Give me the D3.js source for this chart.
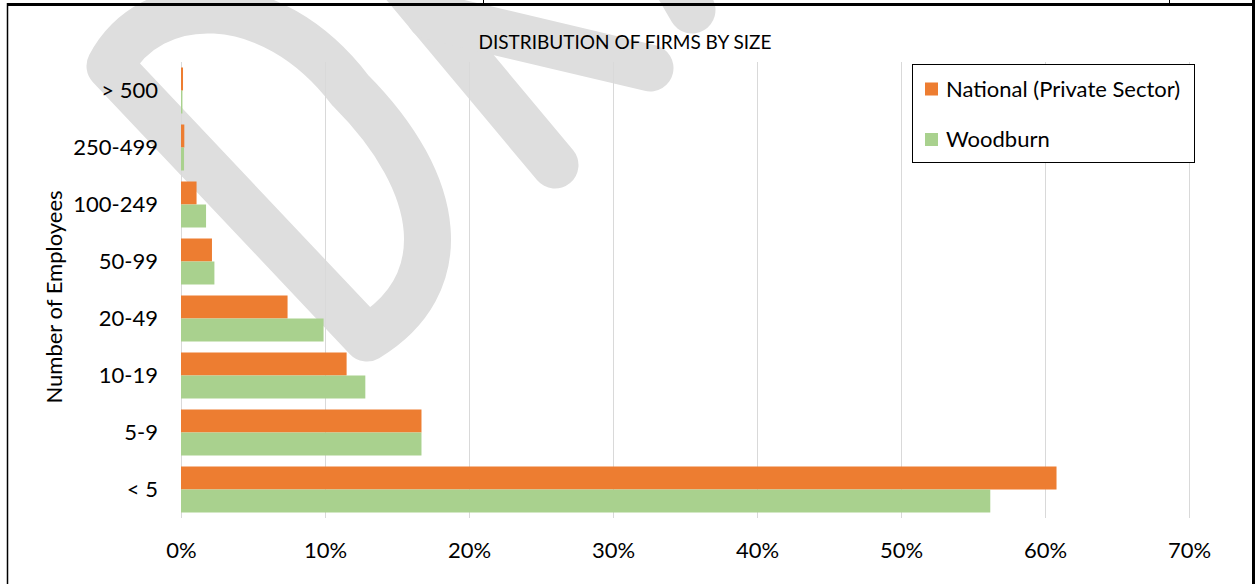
<!DOCTYPE html>
<html>
<head>
<meta charset="utf-8">
<script src="https://cdn.jsdelivr.net/npm/d3@7"></script>
<style>
  html, body { margin: 0; padding: 0; background: #fff; }
  svg { display: block; font-family: Lato, "Noto Sans", sans-serif; }
</style>
</head>
<body>
<svg id="chart" width="1255" height="584"></svg>
<script>
// ---- data ----
const categories = ["> 500", "250-499", "100-249", "50-99", "20-49", "10-19", "5-9", "< 5"];
const seriesNames = ["National (Private Sector)", "Woodburn"];
const nationalValues = [0.0014, 0.0023, 0.0108, 0.0215, 0.074, 0.115, 0.167, 0.608];
const woodburnValues = [0.0010, 0.0021, 0.0174, 0.0232, 0.099, 0.128, 0.167, 0.562];
const xTickValues = [0, 0.1, 0.2, 0.3, 0.4, 0.5, 0.6, 0.7];
const seriesColors = ["#ED7D31", "#A9D18E"];
const chartTitle = "DISTRIBUTION OF FIRMS BY SIZE";
const yAxisTitle = "Number of Employees";

const svg = d3.select("#chart");

// ---- watermark (background decoration) ----
const wm = svg.append("g")
  .attr("fill", "none")
  .attr("stroke", "#DEDEDE")
  .attr("stroke-width", 47)
  .attr("stroke-linecap", "round")
  .attr("stroke-linejoin", "round");
wm.append("path").attr("d", "M 367 338 L 110 66 C 150 -10, 270 -15, 350 90 C 445 185, 455 285, 367 338 Z");
wm.append("path").attr("d", "M 392 -30 L 555 165");
wm.append("path").attr("d", "M 430 16 L 650 68");
wm.append("path").attr("d", "M 660 -45 L 692 10");

// ---- frame ----
const frame = svg.append("g").attr("stroke", "#000");
frame.append("line").attr("x1", 7).attr("x2", 1255).attr("y1", 4.5).attr("y2", 4.5).attr("stroke-width", 3);
frame.append("line").attr("x1", 7.5).attr("x2", 7.5).attr("y1", 3).attr("y2", 584).attr("stroke-width", 1.5);
frame.append("line").attr("x1", 1253.5).attr("x2", 1253.5).attr("y1", 0).attr("y2", 584).attr("stroke-width", 3);
frame.append("line").attr("x1", 483.5).attr("x2", 483.5).attr("y1", 0).attr("y2", 4).attr("stroke-width", 1);
frame.append("line").attr("x1", 1169.5).attr("x2", 1169.5).attr("y1", 0).attr("y2", 4).attr("stroke-width", 1);

// ---- scales ----
const x = d3.scaleLinear().domain([0, 0.7]).range([181, 1189]);
const y = d3.scaleBand().domain(categories).range([62, 518]).paddingInner(0.193).paddingOuter(0.0965);
const ySub = d3.scaleBand().domain(seriesNames).range([0, y.bandwidth()]);

// ---- gridlines ----
svg.append("g")
  .selectAll("line")
  .data(xTickValues)
  .join("line")
  .attr("x1", d => Math.round(x(d)) + 0.5)
  .attr("x2", d => Math.round(x(d)) + 0.5)
  .attr("y1", 62)
  .attr("y2", 518)
  .attr("stroke", "#D9D9D9")
  .attr("stroke-width", 1);

// ---- bars ----
const rows = categories.map((c, i) => ({ cat: c, vals: [nationalValues[i], woodburnValues[i]] }));
const groups = svg.append("g").selectAll("g")
  .data(rows)
  .join("g")
  .attr("transform", d => `translate(0,${y(d.cat)})`);
groups.selectAll("rect")
  .data(d => d.vals.map((v, j) => ({ name: seriesNames[j], v, j })))
  .join("rect")
  .attr("x", x(0))
  .attr("y", d => ySub(d.name))
  .attr("width", d => x(d.v) - x(0))
  .attr("height", ySub.bandwidth())
  .attr("fill", d => seriesColors[d.j]);

// ---- x axis labels ----
const xAxis = d3.axisBottom(x).tickValues(xTickValues).tickFormat(d3.format(".0%")).tickSize(0).tickPadding(0);
const xg = svg.append("g").attr("transform", "translate(0,540)").call(xAxis);
xg.select(".domain").remove();
xg.selectAll("text").attr("font-family", "Lato, sans-serif").attr("font-size", 22).attr("fill", "#000").attr("dy", "0").attr("y", 18);

// ---- y axis labels ----
const yAxis = d3.axisLeft(y).tickSize(0).tickPadding(0);
const yg = svg.append("g").attr("transform", "translate(158,0)").call(yAxis);
yg.select(".domain").remove();
yg.selectAll("text").attr("font-family", "Lato, sans-serif").attr("font-size", 22).attr("fill", "#000").attr("dy", "0.35em");

// ---- titles ----
svg.append("text")
  .attr("x", 625).attr("y", 49)
  .attr("text-anchor", "middle")
  .attr("font-size", 19)
  .attr("fill", "#000")
  .text(chartTitle);

svg.append("text")
  .attr("transform", "translate(62,297) rotate(-90)")
  .attr("text-anchor", "middle")
  .attr("font-size", 22)
  .attr("fill", "#000")
  .text(yAxisTitle);

// ---- legend ----
const legend = svg.append("g");
legend.append("rect")
  .attr("x", 912.5).attr("y", 64.5).attr("width", 282).attr("height", 98)
  .attr("fill", "#fff").attr("stroke", "#000").attr("stroke-width", 1);
const legendY = [89, 139.5];
seriesNames.forEach((name, i) => {
  legend.append("rect")
    .attr("x", 925).attr("y", legendY[i] - 6.5).attr("width", 13).attr("height", 13)
    .attr("fill", seriesColors[i]);
  legend.append("text")
    .attr("x", 946).attr("y", legendY[i]).attr("dy", "0.35em")
    .attr("font-size", 22).attr("fill", "#000")
    .text(name);
});
</script>
</body>
</html>
